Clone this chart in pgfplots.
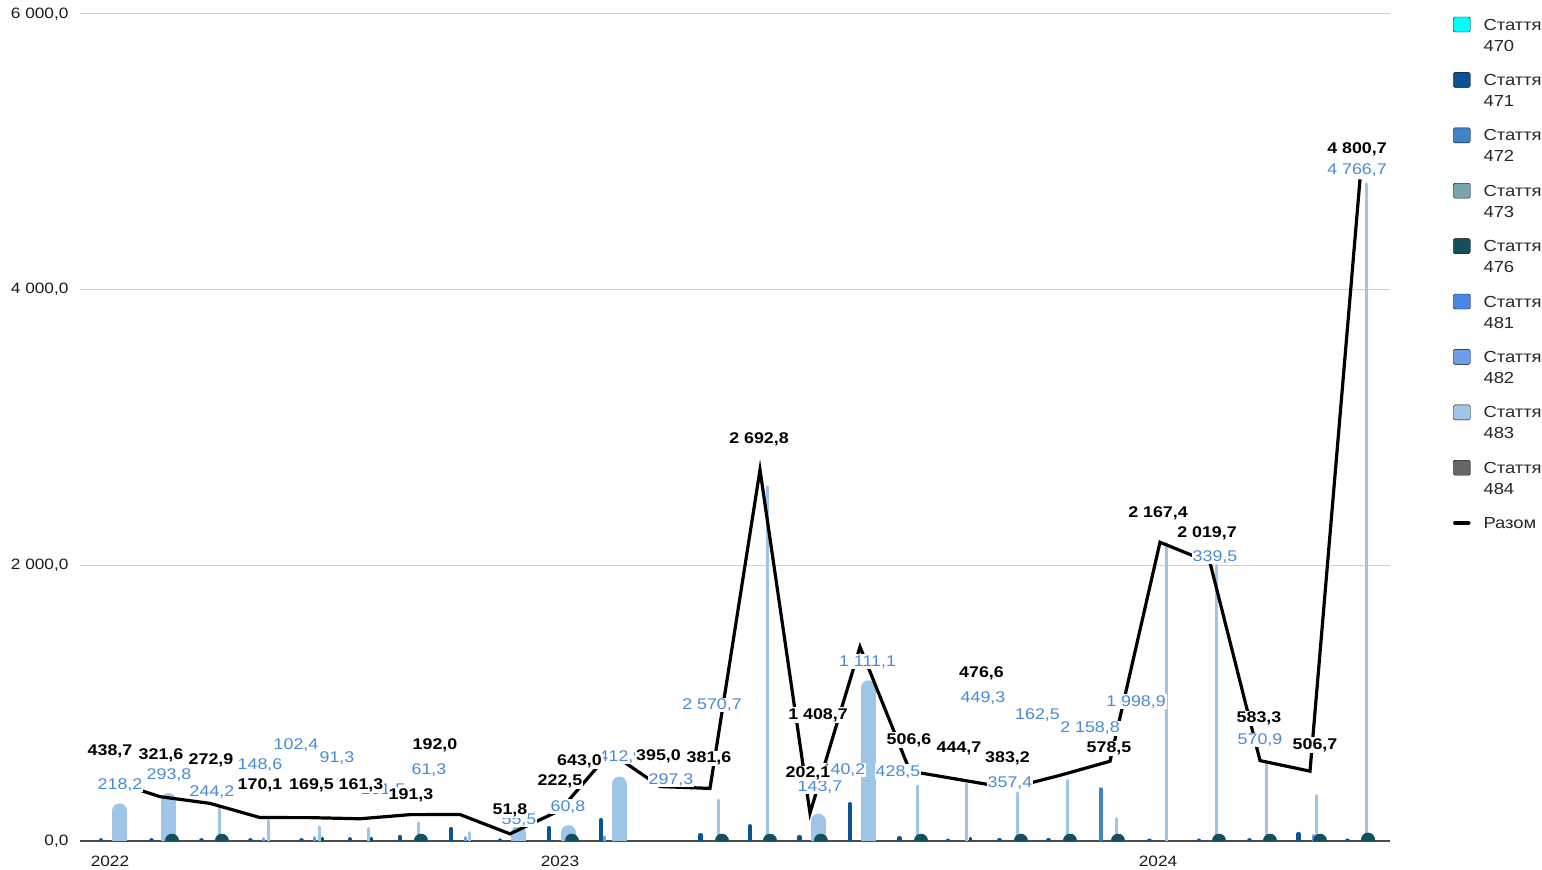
\documentclass[border=0pt]{standalone}
\usepackage{fontspec}
\setmainfont{Liberation Sans}[FakeStretch=1.15]
\usepackage{pgfplots}
\pgfplotsset{compat=1.18}

\definecolor{c470}{HTML}{00FFFF}
\definecolor{c471}{HTML}{0B5394}
\definecolor{c472}{HTML}{3D85C6}
\definecolor{c473}{HTML}{76A5AF}
\definecolor{c476}{HTML}{134F5C}
\definecolor{c481}{HTML}{4A86E8}
\definecolor{c482}{HTML}{6D9EEB}
\definecolor{c483}{HTML}{9FC5E8}
\definecolor{c484}{HTML}{666666}
\definecolor{lblblue}{HTML}{4A8BD4}
\definecolor{gridgray}{HTML}{D0D0D0}

\begin{document}
\begin{tikzpicture}
\begin{axis}[
  scale only axis, width=1310pt, height=827pt,
  at={(0,0)}, anchor=south west,
  xmin=-0.6, xmax=25.6, ymin=0, ymax=6000,
  axis line style={draw=none},
  major tick length=0pt,
  ytick={0,2000,4000,6000},
  yticklabels={{0,0},{2 000,0},{4 000,0},{6 000,0}},
  ymajorgrids, grid style={draw=gridgray, line width=1pt},
  extra y ticks={0}, extra y tick labels={},
  extra y tick style={grid style={draw=black!70, line width=1.5pt}},
  xtick={0,9,20.96}, xticklabels={2022,2023,2024},
  tick label style={font=\fontsize{15}{16}\selectfont, text=black!90},
  yticklabel style={xshift=-8pt},
  xticklabel style={yshift=-11pt},
  legend style={at={(1.0481,0.9984)}, anchor=north west, draw=none, fill=none,
    inner sep=0pt, outer sep=0pt, row sep=38.5pt, column sep=13pt,
    font=\fontsize{16}{21}\selectfont, text=black!85,
    cells={anchor=base west}, nodes={inner sep=0pt}},
  legend image code/.code={\fill[#1, rounded corners=1.5pt] (0pt,-2pt) rectangle (17pt,13pt);},
  comb/.style={ycomb, mark=none, line cap=round, forget plot},
  blue lbl/.style={draw=none, mark=none, forget plot, point meta=explicit symbolic,
    nodes near coords, nodes near coords align={anchor=center},
    every node near coord/.append style={font=\fontsize{15.5}{18}\selectfont,
      text=lblblue, fill=white, inner sep=1pt}},
  black lbl/.style={draw=none, mark=none, forget plot, point meta=explicit symbolic,
    nodes near coords, nodes near coords align={anchor=center},
    every node near coord/.append style={font=\bfseries\fontsize{15.5}{18}\selectfont,
      text=black, fill=white, inner sep=1pt}},
]

% legend only
\addlegendimage{fill=c470}
\addlegendentry{\begin{tabular}[t]{@{}l@{}}Стаття\\470\end{tabular}}
\addlegendimage{fill=c471}
\addlegendentry{\begin{tabular}[t]{@{}l@{}}Стаття\\471\end{tabular}}
\addlegendimage{fill=c472}
\addlegendentry{\begin{tabular}[t]{@{}l@{}}Стаття\\472\end{tabular}}
\addlegendimage{fill=c473}
\addlegendentry{\begin{tabular}[t]{@{}l@{}}Стаття\\473\end{tabular}}
\addlegendimage{fill=c476}
\addlegendentry{\begin{tabular}[t]{@{}l@{}}Стаття\\476\end{tabular}}
\addlegendimage{fill=c481}
\addlegendentry{\begin{tabular}[t]{@{}l@{}}Стаття\\481\end{tabular}}
\addlegendimage{fill=c482}
\addlegendentry{\begin{tabular}[t]{@{}l@{}}Стаття\\482\end{tabular}}
\addlegendimage{fill=c483}
\addlegendentry{\begin{tabular}[t]{@{}l@{}}Стаття\\483\end{tabular}}
\addlegendimage{fill=c484}
\addlegendentry{\begin{tabular}[t]{@{}l@{}}Стаття\\484\end{tabular}}
\addlegendimage{legend image code/.code={\draw[black, line width=4.5pt, line cap=round] (2pt,5.5pt) -- (15pt,5.5pt);}}
\addlegendentry{\begin{tabular}[t]{@{}l@{}}Разом\end{tabular}}

% Стаття 471
\addplot[comb, draw=c471, line width=4.5pt] coordinates {
  (-0.18,5) (0.83,5) (1.83,5) (2.81,5) (3.83,5) (4.8,12) (5.8,28) (6.82,86)
  (7.8,3) (8.78,93) (9.82,151) (11.81,42) (12.8,107) (13.79,28) (14.8,267)
  (15.79,20) (16.76,2) (17.79,6) (18.77,6) (20.79,2) (21.78,2) (22.79,5)
  (23.77,50) (24.75,2)
};
% Стаття 472
\addplot[comb, draw=c472, line width=4pt] coordinates {(19.81,376)};
% Стаття 482
\addplot[comb, draw=c482, line width=3pt] coordinates {
  (3.06,15) (4.08,25) (7.1,25) (9.88,30) (24.06,40)
};
% Стаття 483
\addplot[comb, draw=c483, line width=15pt] coordinates {
  (0.19,218.2) (1.17,293.8) (8.16,55.5) (9.17,60.8) (10.18,412.9)
  (14.16,143.7) (15.16,1111.1)
};
\addplot[comb, draw=c483, line width=3pt] coordinates {
  (2.19,244.2) (3.17,148.6) (4.19,102.4) (5.17,91.3) (6.17,131.5) (7.18,61.3)
  (12.17,297.3) (13.15,2570.7) (16.15,400) (17.13,415) (18.15,350) (19.15,440)
  (20.12,162.5) (21.13,2158.8) (22.13,1998.9) (23.13,570.9) (24.13,330)
  (25.12,4766.7)
};
% Стаття 476
\addplot[comb, draw=c476, line width=3pt] coordinates {(4.25,20) (5.23,20) (17.2,20)};
\addplot[comb, draw=c476, line width=14pt] coordinates {
  (1.24,2) (2.23,2) (6.22,2) (9.23,2) (12.23,2) (13.2,2) (14.21,2) (16.22,2)
  (18.21,2) (19.2,2) (20.16,2) (22.18,2) (23.2,2) (24.2,2) (25.16,10)
};

% Разом
\addplot[black, line width=3.2pt, mark=none, forget plot] coordinates {
  (0,438.7) (1,321.6) (2,272.9) (3,170.1) (4,169.5) (5,161.3) (6,191.3)
  (7,192.0) (8,51.8) (9,222.5) (10,643.0) (11,395.0) (12,381.6) (13,2692.8)
  (14,202.1) (15,1408.7) (16,506.6) (17,444.7) (18,383.2) (19,476.6)
  (20,578.5) (21,2167.4) (22,2019.7) (23,583.3) (24,506.7) (25,4800.7)
};

% labels, Стаття 483
\addplot[blue lbl] coordinates {
  (0.2,406) [218,2] (1.18,479) [293,8] (2.04,358) [244,2] (3.0,552) [148,6]
  (3.72,697) [102,4] (4.54,600) [91,3] (5.46,370) [131,5] (6.38,515) [61,3]
  (8.18,152) [55,5] (9.16,249) [60,8] (10.22,612) [412,9] (11.22,443) [297,3]
  (12.04,987) [2 570,7] (14.2,394) [143,7] (14.66,515) [440,2]
  (15.15,1301) [1 111,1] (15.76,503) [428,5] (17.46,1036) [449,3]
  (18.0,419) [357,4] (18.55,914) [162,5] (19.6,818) [2 158,8]
  (20.52,1011) [1 998,9] (22.1,2063) [339,5] (23.0,733) [570,9]
  (24.94,4870) [4 766,7]
};
% labels, Разом
\addplot[black lbl] coordinates {
  (0,648) [438,7] (1.02,624) [321,6] (2.02,583) [272,9] (3.0,406) [170,1]
  (4.03,406) [169,5] (5.02,406) [161,3] (6.02,334) [191,3] (6.5,697) [192,0]
  (8.0,220) [51,8] (9.0,430) [222,5] (9.39,575) [643,0] (10.97,612) [395,0]
  (11.98,600) [381,6] (12.98,2917) [2 692,8] (13.96,491) [202,1]
  (14.16,914) [1 408,7] (15.98,733) [506,6] (16.98,673) [444,7]
  (17.95,600) [383,2] (17.43,1217) [476,6] (19.98,673) [578,5]
  (20.96,2378) [2 167,4] (21.94,2233) [2 019,7] (22.98,890) [583,3]
  (24.1,697) [506,7] (24.94,5022) [4 800,7]
};
\end{axis}
\pgfresetboundingbox
\path[use as bounding box] (-80pt,-29pt) rectangle (1462pt,841pt);
\end{tikzpicture}
\end{document}
